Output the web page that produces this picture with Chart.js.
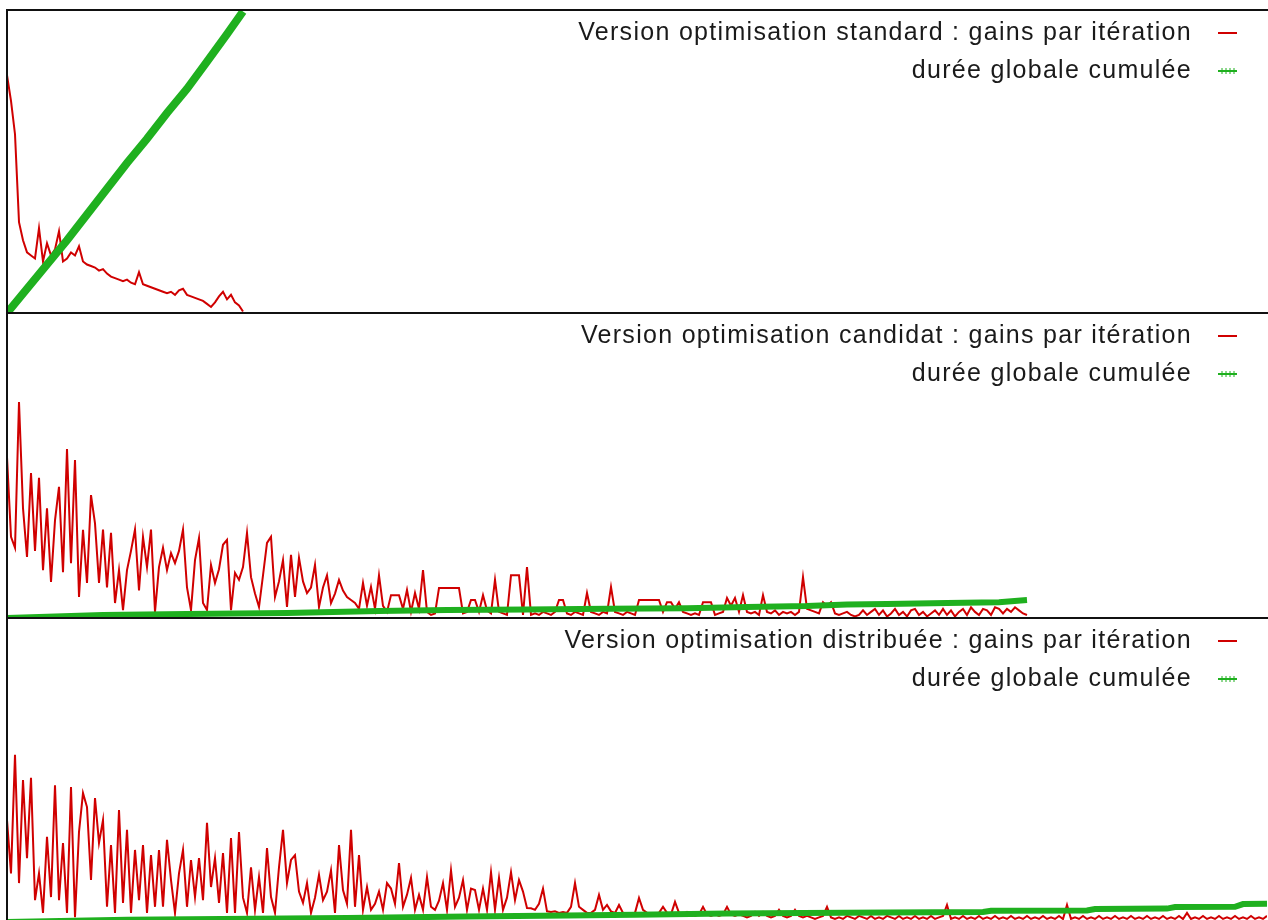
<!DOCTYPE html>
<html>
<head>
<meta charset="utf-8">
<script src="https://cdn.jsdelivr.net/npm/chart.js@4.4.1/dist/chart.umd.min.js"></script>
<style>
  html, body { margin: 0; padding: 0; background: #fff; overflow: hidden; }
  .panel { position: absolute; left: 0; }
</style>
</head>
<body>
<canvas id="c1" class="panel"></canvas>
<canvas id="c2" class="panel"></canvas>
<canvas id="c3" class="panel"></canvas>
<script>
// gains par itération (red) - one value per iteration
const stdGains = [78.5, 70, 59, 30, 24, 20, 19, 18, 28, 17,
    23, 19, 21, 27, 17, 18, 20, 19, 22, 17,
    16, 15.5, 15, 14, 14.5, 13, 12, 11.5, 11, 10.5,
    11, 10, 9.5, 13.5, 9.5, 9, 8.5, 8, 7.5, 7,
    6.5, 7, 6, 7.5, 8, 6, 5.5, 5, 4.5, 4,
    3, 2, 3.5, 5.5, 7, 4.5, 6, 3.5, 2.5, 0.5];

const candGains = [52.8, 26.6, 23, 70.8, 36, 20, 47.5, 22, 46, 15.7,
    36, 11.8, 32, 43, 15, 55.4, 18, 51.8, 6.9, 28.9,
    11.5, 40.3, 31, 11.5, 29, 10, 27.9, 4.9, 15.7, 2.6,
    15.7, 22, 29, 9, 26.6, 16.7, 29, 2, 16.7, 23,
    15.7, 21.3, 18, 22, 29, 10, 2.6, 19, 26.2, 4.9,
    2.6, 17.4, 11.5, 16, 24, 25.6, 2.6, 14.8, 12.5, 16.7,
    27.9, 13.4, 8, 3.6, 14, 24.6, 26.6, 6.9, 12, 19,
    3.6, 20.7, 6.9, 19.7, 12, 8.2, 10, 17.4, 3.6, 10,
    14, 4.9, 8, 12.5, 9, 6.9, 5.9, 4.9, 3, 11.5,
    4, 10.2, 3, 14, 4, 2, 7.5, 7.5, 7.5, 3,
    9.2, 2, 8.2, 3, 15.7, 2, 1, 1.5, 9.8, 9.8,
    9.8, 9.8, 9.8, 9.8, 1.5, 2, 5.9, 5.9, 2, 7.5,
    2.5, 1.5, 12.5, 2, 1.5, 1, 14, 14, 14, 1,
    16.7, 1, 1.5, 1, 2, 1.5, 1, 2, 5.9, 5.9,
    1.5, 1, 2, 1.5, 1, 8.2, 2, 1.5, 1, 2,
    1.5, 10.2, 2, 1.5, 1, 2, 1.5, 1, 5.9, 5.9,
    5.9, 5.9, 5.9, 5.9, 2, 5.2, 5.2, 3, 5.2, 2,
    1.5, 1, 1.5, 1, 5.2, 5.2, 5.2, 1, 1.5, 2,
    6.6, 4, 6.6, 2, 7.5, 2, 1.5, 2, 1, 7.5,
    2, 1.5, 2.5, 1, 2, 1.5, 2, 1, 2, 13.4,
    3, 2.5, 2, 1.5, 5.2, 4, 5.2, 1.5, 1, 1.5,
    2, 1, 0.5, 1, 2.5, 1, 2, 3, 1, 2.5,
    0.5, 1.5, 3, 1, 2, 0.5, 2.5, 3, 1, 2,
    0.5, 1.5, 2.5, 1, 3, 1, 2.5, 0.5, 2, 3,
    1, 3.5, 2, 1, 3, 2.5, 1, 3.5, 3, 1.5,
    3, 2, 3.5, 2.5, 1.5, 1];

const distGains = [33.5, 16, 55, 12.8, 46.7, 21, 47.4, 7.2, 16, 3,
    28, 8.2, 45, 7.2, 26, 3, 44.4, 1.6, 29.6, 42.4,
    37.8, 13.8, 40.8, 26, 33.5, 5, 25.3, 3, 36.8, 6.3,
    30.3, 3, 23.7, 7.2, 25.3, 3, 22, 5, 23.7, 5,
    27, 13.8, 3, 16, 23.7, 5, 20.4, 8.2, 21, 7.2,
    32.6, 11.5, 21, 6.3, 22.7, 3, 27.6, 3, 29.6, 8,
    3, 18, 4, 14.8, 3, 24.3, 8.2, 3, 18, 30.3,
    12.8, 20.4, 22, 10, 6.3, 12.8, 3, 8, 15.5, 7.2,
    10, 17, 3, 25.3, 10.5, 6, 30.3, 5, 22, 4,
    11.5, 4, 6, 10, 4, 12.8, 11, 6, 19.4, 5,
    9, 14.5, 4, 8.9, 4, 14.8, 5, 4, 7, 12.8,
    4, 17, 5, 8, 13.8, 4, 11, 10.5, 4, 11,
    4, 16.4, 4, 14.5, 4, 8, 16.4, 7.2, 13.8, 10,
    4.6, 4.5, 4, 6, 11, 3.5, 3.3, 3.5, 3, 3.3,
    3, 5, 12.8, 5, 4, 3, 3, 4, 8.9, 4,
    5.6, 3.5, 3, 5.6, 3, 2.5, 2.5, 3, 7.9, 4,
    3, 2.5, 2.5, 3, 5, 3, 2.5, 6.6, 3, 2.5,
    3.3, 2.5, 2, 2.5, 5, 2.5, 2, 2.5, 2, 2.5,
    5, 2.5, 2, 2.5, 2, 1.5, 2, 3.3, 2, 3.3,
    2, 1.5, 2, 4, 2, 1.5, 2, 4, 2, 1.5,
    2, 1.5, 1, 1.5, 2, 5, 1.5, 1, 1.5, 1,
    2, 1.5, 1, 2, 1.5, 1, 2, 1, 1.5, 1,
    2, 1.5, 1, 2, 1, 1.5, 1, 2, 1, 1.5,
    1, 2, 1, 1.5, 2, 5.6, 1, 1.5, 1, 2,
    1, 1.5, 1, 2, 1, 1.5, 1, 2, 1, 1.5,
    1, 2, 1, 1.5, 1, 2, 1, 1.5, 1, 2,
    1, 1.5, 1, 2, 1, 5.6, 1, 1.5, 1, 2,
    1, 1.5, 1, 2, 1, 1.5, 1, 2, 1, 1.5,
    1, 2, 1, 1.5, 1, 2, 1, 1.5, 1, 2,
    1, 1.5, 1, 2, 1, 3, 1, 1.5, 1, 2,
    1, 1.5, 1, 2, 1, 1.5, 1, 2, 1, 1.5,
    1, 2, 1, 1.5, 1, 2];

// durée globale cumulée (green) - iteration numbers and values
const stdCumulIter = [0, 5, 10, 15, 20, 25, 30, 35, 40, 45, 50, 55, 59];
const stdCumul = [0, 8, 16, 24, 32.5, 41, 49.5, 57.5, 66, 74, 83, 92, 99.5];

const candCumulIter = [0, 24, 45, 70, 93, 110, 130, 150, 170, 185, 200, 210, 220, 235, 248, 255];
const candCumul = [0, 1, 1.3, 1.6, 2.3, 2.6, 2.8, 3, 3.2, 3.6, 3.9, 4.4, 4.6, 4.9, 5.2, 5.9];

const distCumulIter = [0, 30, 85, 115, 140, 157, 180, 199, 220, 244, 246, 270, 272, 290, 292, 307, 309, 315];
const distCumul = [0, 0.7, 1.3, 1.8, 2.1, 2.4, 2.8, 3, 3.1, 3.3, 3.7, 3.8, 4.3, 4.4, 4.9, 5, 5.9, 6];

const gainLabels = [
    'Version optimisation standard : gains par itération',
    'Version optimisation candidat : gains par itération',
    'Version optimisation distribuée : gains par itération'
];
const cumulLabel = 'durée globale cumulée';

const RED = '#d00000';
const GREEN = '#1fb01f';
const MAX_ITER = 315;

// frame + legend drawn inside the plot area, gnuplot style
const framePlugin = {
    id: 'frame',
    afterDraw(chart) {
        const { ctx, chartArea: a } = chart;
        ctx.save();
        ctx.strokeStyle = '#111';
        ctx.lineWidth = 2;
        ctx.beginPath();
        ctx.moveTo(a.right + 4, a.top);
        ctx.lineTo(a.left, a.top);
        ctx.lineTo(a.left, a.bottom);
        ctx.lineTo(a.right + 4, a.bottom);
        ctx.stroke();

        ctx.font = '25px "Liberation Sans", Arial, sans-serif';
        ctx.letterSpacing = '1.3px';
        ctx.fillStyle = '#1a1a1a';
        ctx.textAlign = 'right';
        ctx.textBaseline = 'middle';
        chart.data.datasets.forEach((ds, i) => {
            const y = a.top + 23 + i * 38;
            ctx.fillText(ds.label, 1192, y);
            ctx.strokeStyle = ds.borderColor;
            ctx.lineWidth = 2;
            ctx.beginPath();
            ctx.moveTo(1218, y);
            ctx.lineTo(1237, y);
            ctx.stroke();
            if (i === 1) {
                ctx.lineWidth = 1;
                [1222, 1226, 1230, 1234].forEach(px => {
                    ctx.beginPath();
                    ctx.moveTo(px, y - 3);
                    ctx.lineTo(px, y + 3);
                    ctx.stroke();
                });
            }
        });
        ctx.restore();
    }
};

function makePanel(id, top, height, label, gains, cumulIter, cumul, cumulWidth) {
    const canvas = document.getElementById(id);
    canvas.width = 1268;
    canvas.height = height + 4;
    canvas.style.top = (top - 2) + 'px';
    return new Chart(canvas, {
        type: 'line',
        data: {
            datasets: [{
                label: label,
                data: gains.map((v, i) => ({ x: i, y: v })),
                borderColor: RED,
                borderWidth: 2,
                pointRadius: 0,
                order: 1
            }, {
                label: cumulLabel,
                data: cumulIter.map((it, i) => ({ x: it, y: cumul[i] })),
                borderColor: GREEN,
                borderWidth: cumulWidth,
                pointRadius: 0,
                order: 0
            }]
        },
        options: {
            responsive: false,
            animation: false,
            layout: { padding: { left: 7, right: 1, top: 2, bottom: 2 } },
            scales: {
                x: { type: 'linear', min: 0, max: MAX_ITER, display: false },
                y: { min: 0, max: 100, display: false }
            },
            plugins: {
                legend: { display: false },
                tooltip: { enabled: false }
            }
        },
        plugins: [framePlugin]
    });
}

makePanel('c1', 10, 303, gainLabels[0], stdGains, stdCumulIter, stdCumul, 8);
makePanel('c2', 313, 305, gainLabels[1], candGains, candCumulIter, candCumul, 6);
makePanel('c3', 618, 304, gainLabels[2], distGains, distCumulIter, distCumul, 6);
</script>
</body>
</html>
